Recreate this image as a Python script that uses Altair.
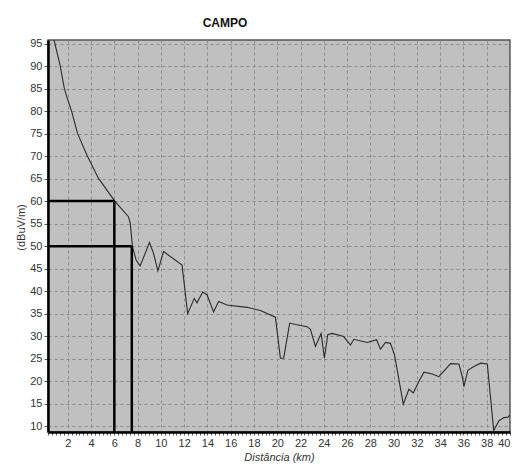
import altair as alt
import pandas as pd

# Field strength curve
dist = [0.82, 1.33, 1.70, 1.91, 2.34, 2.83, 3.63, 4.63, 6.07, 7.2, 7.36, 7.56, 7.87, 8.22,
        9.02, 9.37, 9.74, 10.23, 11.82, 12.3, 12.87, 13.1, 13.6, 13.96, 14.53, 14.96, 15.68,
        17.4, 18.55, 19.84, 20.27, 20.55, 21.07, 21.56, 22.56, 22.85, 23.28, 23.77, 24.05,
        24.34, 24.72, 25.71, 26.29, 26.58, 27.73, 28.53, 28.87, 29.3, 29.73, 30.08, 30.83,
        31.31, 31.69, 32.17, 32.6, 33.32, 33.89, 34.9, 35.61, 35.9, 36.04, 36.38, 36.85,
        37.48, 38.05, 38.6, 39.05, 39.48, 39.83, 40.0]
field = [95.8, 90.3, 85.1, 83.2, 79.9, 75.1, 70.3, 65.1, 59.9, 56.6, 55.2, 49.9, 46.9, 45.6,
         50.8, 48.4, 44.5, 48.8, 45.8, 35.0, 38.4, 37.4, 39.8, 39.2, 35.4, 37.7, 36.9,
         36.4, 35.7, 34.2, 25.1, 25.1, 32.9, 32.6, 32.1, 31.5, 27.7, 30.6, 25.1,
         30.3, 30.6, 29.9, 28.0, 29.3, 28.6, 29.2, 27.1, 28.6, 28.4, 25.8, 14.9,
         18.2, 17.4, 19.9, 22.0, 21.6, 21.0, 23.9, 23.8, 21.0, 18.8, 22.4, 23.2,
         24.0, 23.8, 9.0, 11.2, 11.9, 12.0, 12.5]

# Reference levels and the distances where they are reached
levels = [60, 50]
cut_dist = [6, 7.5]

x_min, x_max = 0.3, 40
y_min, y_max = 8.7, 95.8

y_ticks = list(range(10, 100, 5))
x_ticks = [round(i / 3, 4) for i in range(1, 121)]

curve = pd.DataFrame({"dist": dist, "field": field})
hrules = pd.DataFrame({"x0": [x_min] * len(levels), "x1": cut_dist, "lvl": levels})
vrules = pd.DataFrame({"x": cut_dist, "y0": levels, "y1": [y_min] * len(levels)})

FONT = "Liberation Sans"
major = "abs(datum.value/2 - round(datum.value/2)) < 0.001"

xscale = alt.Scale(domain=[x_min, x_max], nice=False, zero=False)
yscale = alt.Scale(domain=[y_min, y_max], nice=False, zero=False)

xaxis = alt.Axis(values=x_ticks, title="Distância (km)",
                 labelExpr=f"{major} ? format(datum.value, 'd') : ''",
                 labelOverlap=False, labelFlush=False,
                 labelAlign={"condition": {"test": "datum.value > 39.9", "value": "right"},
                             "value": "center"},
                 gridOpacity={"condition": {"test": major, "value": 1}, "value": 0},
                 tickSize=3, labelPadding=2, titlePadding=3,
                 titleFontStyle="italic")
yaxis = alt.Axis(values=y_ticks, title="(dBuV/m)", tickSize=4, labelPadding=2,
                 titlePadding=3, titleY=187)

line = alt.Chart(curve).mark_line(color="#2b2b2b", strokeWidth=1.1, clip=True).encode(
    x=alt.X("dist:Q", scale=xscale, axis=xaxis),
    y=alt.Y("field:Q", scale=yscale, axis=yaxis),
)

h = alt.Chart(hrules).mark_rule(color="black", strokeWidth=2.5).encode(
    x=alt.X("x0:Q", scale=xscale, axis=xaxis),
    x2="x1:Q",
    y=alt.Y("lvl:Q", scale=yscale, axis=yaxis),
)
v = alt.Chart(vrules).mark_rule(color="black", strokeWidth=2.5).encode(
    x=alt.X("x:Q", scale=xscale, axis=xaxis),
    y=alt.Y("y0:Q", scale=yscale, axis=yaxis),
    y2="y1:Q",
)

chart = alt.layer(line, h, v).properties(
    width=462, height=392,
    title=alt.TitleParams("CAMPO", font=FONT, fontSize=12, fontWeight="bold", color="#111",
                          anchor="middle", dx=-54, offset=8),
    autosize=alt.AutoSizeParams(type="none"),
    padding={"left": 48, "top": 40, "right": 4, "bottom": 36},
    background="white",
).configure_view(
    fill="#c0c0c0", stroke="#555555", strokeWidth=1.5
).configure_axis(
    labelFont=FONT, titleFont=FONT, labelFontSize=11, titleFontSize=11,
    labelColor="#333", titleColor="#333", titleFontWeight="normal",
    tickColor="#555", domainColor="black", domainWidth=2.5,
    gridColor="#8a8a8a", gridDash=[3, 3], gridWidth=1,
)

chart.save("out.html", embed_options={"renderer": "svg", "actions": False})
